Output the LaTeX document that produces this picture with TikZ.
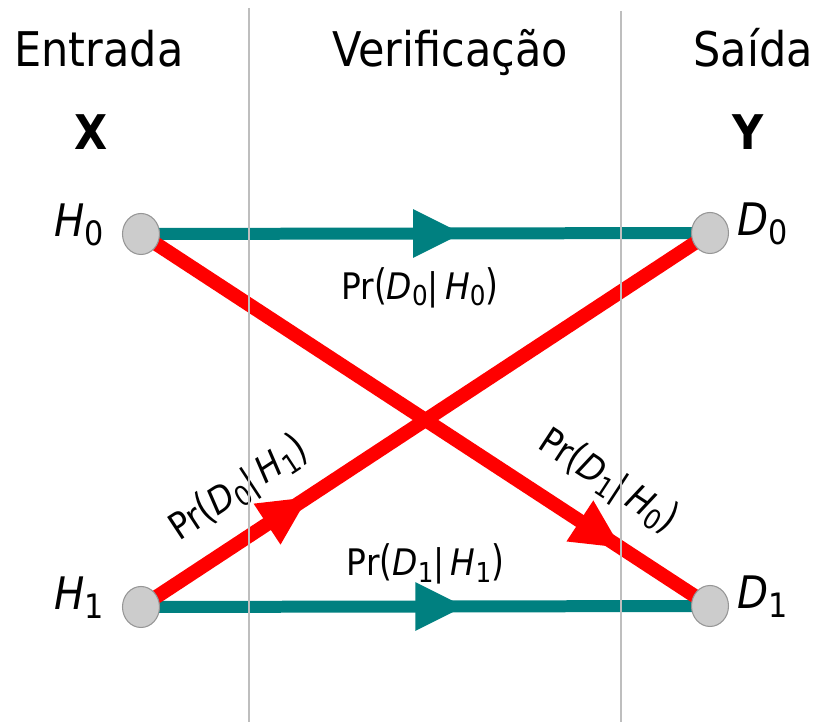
\documentclass[tikz,border=0pt]{standalone}
\usepackage{fontspec}
\setmainfont{DejaVu Sans}[FakeStretch=0.9]
\usetikzlibrary{arrows.meta,positioning,shapes.geometric,decorations.markings,backgrounds}
\definecolor{tealln}{RGB}{0,128,128}
\definecolor{redln}{RGB}{255,0,0}
\definecolor{nodegray}{RGB}{204,204,204}
\definecolor{rimgray}{RGB}{150,150,150}
\definecolor{sepgray}{RGB}{190,190,190}
\newcommand{\ix}[2]{\textit{#1}\raisebox{-0.18em}{\scalebox{0.75}{#2}}}
\newcommand{\pr}[2]{Pr\scalebox{1}[1.15]{(}#1|\,#2\scalebox{1}[1.15]{)}}

\begin{document}
\begin{tikzpicture}[x=0.02cm, y=-0.02cm,
  dot/.style={ellipse, draw=rimgray, fill=nodegray, line width=0.6pt,
    minimum width=0.74cm, minimum height=0.82cm, inner sep=0},
  sym/.style={font=\fontsize{25.5}{30}\selectfont, inner sep=0},
  head/.style={font=\fontsize{27.2}{32}\selectfont, anchor=base, inner sep=0},
  prob/.style={font=\fontsize{20.8}{24}\selectfont, text=black, inner sep=0},
  mid/.style={postaction={decorate}, decoration={markings,
    mark=at position #1 with {\arrow{Triangle[length=1.0cm 0 0,width=0.9cm 0 0]}}}},
  tealarc/.style={line width=0.24cm, tealln},
  redarc/.style={line width=0.28cm, redln}]
  \useasboundingbox (0,0) rectangle (819,722);
  % column separators
  \draw[sepgray, line width=1.2pt] (249,8) -- (249,722);
  \draw[sepgray, line width=1.2pt] (621,11) -- (621,722);
  % headings
  \node[head] (entrada) at (99,67) {Entrada};
  \node[head] (verif) at (450,67) {Verificação};
  \node[head] (saida) at (753,67) {Saída};
  \node[head, font=\fontsize{27.2}{32}\selectfont\bfseries] (xin) at (91,150) {X};
  \node[head, font=\fontsize{27.2}{32}\selectfont\bfseries] (yout) at (748,150) {Y};
  % states
  \node[dot] (h0) at (141,234) {};
  \node[dot] (d0) at (710,233) {};
  \node[dot] (h1) at (141,607) {};
  \node[dot] (d1) at (710,606) {};
  \node[sym, anchor=base east] (h0l) at ([xshift=-0.35cm,yshift=-0.06cm]h0.west) {\ix{H}{0}};
  \node[sym, anchor=base east] (h1l) at ([xshift=-0.35cm,yshift=-0.06cm]h1.west) {\ix{H}{1}};
  \node[sym, anchor=base west] (d0l) at ([xshift=0.16cm,yshift=-0.06cm]d0.east) {\ix{D}{0}};
  \node[sym, anchor=base west] (d1l) at ([xshift=0.16cm,yshift=-0.06cm]d1.east) {\ix{D}{1}};
  % transitions
  \begin{scope}[on background layer]
    \draw[tealarc, mid=0.566] (h0.center) -- (d0.center)
      node[prob, pos=0.49, below=0.56cm] (p00) {\pr{\ix{D}{0}}{\ix{H}{0}}};
    \draw[tealarc, mid=0.57] (h1.center) -- (d1.center)
      node[prob, pos=0.5, above=0.32cm] (p11) {\pr{\ix{D}{1}}{\ix{H}{1}}};
    \draw[redarc, mid=0.295] (h1.center) -- (d0.center)
      node[prob, pos=0.215, sloped, above=0.36cm] (p01) {\pr{\ix{D}{0}}{\ix{H}{1}}};
    \draw[redarc, mid=0.845] (h0.center) -- (d1.center)
      node[prob, pos=0.774, sloped, above=0.44cm] (p10) {\pr{\ix{D}{1}}{\ix{H}{0}}};
  \end{scope}
\end{tikzpicture}
\end{document}
